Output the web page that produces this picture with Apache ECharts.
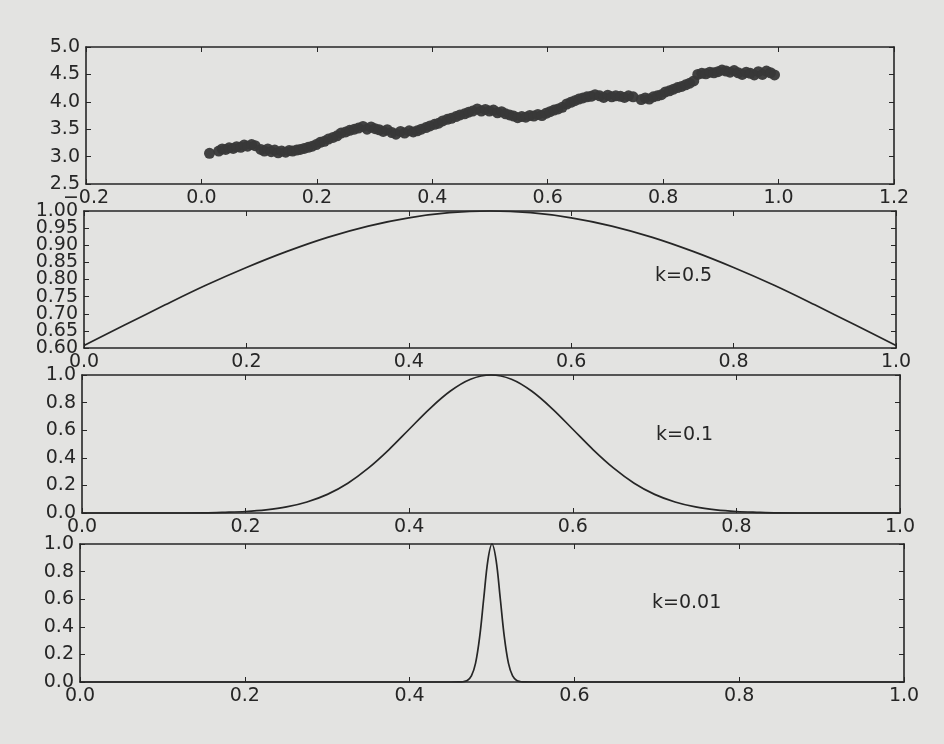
<!DOCTYPE html>
<html>
<head>
<meta charset="utf-8">
<title>LWLR kernel weights</title>
<script src="https://cdn.jsdelivr.net/npm/echarts@6/dist/echarts.min.js"></script>
<style>
  html, body { margin: 0; padding: 0; background: #e3e3e1; }
  #main { width: 944px; height: 744px; }
</style>
</head>
<body>
<div id="main"></div>
<script>
// scatter data (top panel)
var scatterX = [
  0.014, 0.030, 0.036, 0.042, 0.048, 0.055, 0.061, 0.068, 0.074, 0.080, 0.087, 0.093,
  0.103, 0.109, 0.115, 0.121, 0.127, 0.133, 0.139, 0.146, 0.152, 0.158, 0.165, 0.171, 0.178, 0.185, 0.192, 0.199,
  0.206, 0.213, 0.220, 0.228, 0.235, 0.242, 0.250, 0.257, 0.265, 0.272, 0.280, 0.287, 0.294, 0.301,
  0.308, 0.315, 0.322, 0.330, 0.337, 0.345, 0.352, 0.360, 0.367,
  0.374, 0.381, 0.389, 0.396, 0.404, 0.411, 0.418, 0.426, 0.433, 0.441, 0.448, 0.456, 0.463, 0.470, 0.478, 0.485,
  0.492, 0.499, 0.506, 0.513, 0.520, 0.527, 0.534, 0.541, 0.548, 0.555, 0.562, 0.569, 0.576, 0.583, 0.590, 0.597,
  0.604, 0.611, 0.618, 0.625, 0.633, 0.640, 0.647, 0.654, 0.661, 0.668, 0.675, 0.682,
  0.690, 0.697, 0.704, 0.711, 0.718, 0.726, 0.733, 0.740, 0.748,
  0.762, 0.769, 0.776, 0.783, 0.790, 0.797, 0.804, 0.811, 0.818, 0.825, 0.832, 0.839, 0.846, 0.853,
  0.860, 0.867, 0.874, 0.881, 0.888, 0.895, 0.902, 0.909, 0.916, 0.923, 0.930, 0.937, 0.944, 0.951, 0.958, 0.965, 0.972, 0.979, 0.986, 0.993
];
var scatterY = [
  3.06, 3.10, 3.14, 3.13, 3.16, 3.15, 3.18, 3.17, 3.21, 3.19, 3.22, 3.20,
  3.13, 3.10, 3.14, 3.09, 3.12, 3.07, 3.10, 3.08, 3.11, 3.10, 3.12, 3.13, 3.15, 3.17, 3.19, 3.22,
  3.26, 3.28, 3.32, 3.35, 3.38, 3.43, 3.45, 3.48, 3.50, 3.52, 3.55, 3.50, 3.54, 3.51,
  3.49, 3.46, 3.49, 3.44, 3.41, 3.46, 3.43, 3.47, 3.45,
  3.47, 3.50, 3.53, 3.56, 3.59, 3.61, 3.65, 3.68, 3.70, 3.73, 3.76, 3.78, 3.81, 3.83, 3.87, 3.83,
  3.86, 3.83, 3.85, 3.80, 3.82, 3.78, 3.76, 3.74, 3.71, 3.73, 3.72, 3.75, 3.74, 3.77, 3.75, 3.79,
  3.82, 3.85, 3.87, 3.90, 3.96, 3.99, 4.02, 4.05, 4.07, 4.09, 4.10, 4.13,
  4.11, 4.08, 4.12, 4.09, 4.11, 4.10, 4.08, 4.11, 4.09,
  4.04, 4.07, 4.05, 4.09, 4.11, 4.13, 4.18, 4.20, 4.23, 4.26, 4.28, 4.31, 4.34, 4.38,
  4.50, 4.52, 4.51, 4.54, 4.53, 4.55, 4.58, 4.56, 4.54, 4.57, 4.53, 4.50, 4.54, 4.52, 4.49, 4.55, 4.50, 4.56, 4.53, 4.49
];

// kernel weight curves
var k05X = [0, 0.05, 0.1, 0.15, 0.2, 0.25, 0.3, 0.35, 0.4, 0.45, 0.5, 0.55, 0.6, 0.65, 0.7, 0.75, 0.8, 0.85, 0.9, 0.95, 1.0];
var k05Y = [0.607, 0.667, 0.726, 0.783, 0.835, 0.882, 0.923, 0.956, 0.980, 0.995, 1.0, 0.995, 0.980, 0.956, 0.923, 0.882, 0.835, 0.783, 0.726, 0.667, 0.607];

var k01X = [0, 0.1, 0.15, 0.175, 0.2, 0.225, 0.25, 0.275, 0.3, 0.325, 0.35, 0.375, 0.4, 0.425, 0.45, 0.475, 0.5,
            0.525, 0.55, 0.575, 0.6, 0.625, 0.65, 0.675, 0.7, 0.725, 0.75, 0.775, 0.8, 0.825, 0.85, 0.9, 1.0];
var k01Y = [0, 0, 0.001, 0.005, 0.011, 0.023, 0.044, 0.080, 0.135, 0.216, 0.325, 0.458, 0.607, 0.755, 0.882, 0.969, 1.0,
            0.969, 0.882, 0.755, 0.607, 0.458, 0.325, 0.216, 0.135, 0.080, 0.044, 0.023, 0.011, 0.005, 0.001, 0, 0];

var k001X = [0, 0.45, 0.46, 0.465, 0.47, 0.475, 0.48, 0.485, 0.49, 0.495, 0.5, 0.505, 0.51, 0.515, 0.52, 0.525, 0.53, 0.535, 0.54, 0.55, 1.0];
var k001Y = [0, 0, 0.0003, 0.002, 0.011, 0.044, 0.135, 0.325, 0.607, 0.882, 1.0, 0.882, 0.607, 0.325, 0.135, 0.044, 0.011, 0.002, 0.0003, 0, 0];

var curveLabels = ['k=0.5', 'k=0.1', 'k=0.01'];

var chartDom = document.getElementById('main');
var myChart = echarts.init(chartDom);

var ink = '#262626';
var font = 'DejaVu Sans';
var fontSize = 19;

function zip(xs, ys) {
  return xs.map(function (x, i) { return [x, ys[i]]; });
}

function fmt(digits) {
  return function (v) {
    var s = Math.abs(v).toFixed(digits);
    return (v < -1e-9 ? '\u2212' : '') + s;
  };
}

// grid boxes (pixels)
var grids = [
  { left: 86, top: 47,  width: 808, height: 137 },
  { left: 84, top: 211, width: 812, height: 137 },
  { left: 82, top: 375, width: 818, height: 138 },
  { left: 80, top: 544, width: 824, height: 138 }
];

// axis ranges per panel
var xRanges = [[-0.2, 1.2, 0.2], [0, 1, 0.2], [0, 1, 0.2], [0, 1, 0.2]];
var yRanges = [[2.5, 5.0, 0.5, 1], [0.6, 1.0, 0.05, 2], [0, 1, 0.2, 1], [0, 1, 0.2, 1]];

var labelStyle = { color: ink, fontFamily: font, fontSize: fontSize };

var xAxis = [], yAxis = [];
grids.forEach(function (g, i) {
  var xr = xRanges[i], yr = yRanges[i];
  ['bottom', 'top'].forEach(function (pos) {
    xAxis.push({
      type: 'value', gridIndex: i, position: pos,
      min: xr[0], max: xr[1], interval: xr[2],
      axisLine: { show: true, onZero: false, lineStyle: { color: ink, width: 1.6 } },
      axisTick: { show: true, inside: true, length: 5, lineStyle: { color: ink } },
      axisLabel: Object.assign({
        show: pos === 'bottom', margin: 5, formatter: fmt(1),
        showMinLabel: true, showMaxLabel: true
      }, labelStyle),
      splitLine: { show: false }
    });
  });
  ['left', 'right'].forEach(function (pos) {
    var f = fmt(yr[3]);
    // the crowded 0.05-step axis: every other label here, the rest on an overlay axis
    if (i === 1) {
      f = function (v) { return Math.round(v / 0.05) % 2 === 0 ? v.toFixed(2) : ''; };
    }
    yAxis.push({
      type: 'value', gridIndex: i, position: pos,
      min: yr[0], max: yr[1], interval: yr[2],
      axisLine: { show: true, onZero: false, lineStyle: { color: ink, width: 1.6 } },
      axisTick: { show: true, inside: true, length: 5, lineStyle: { color: ink } },
      axisLabel: Object.assign({
        show: pos === 'left', margin: 6, formatter: f,
        showMinLabel: true, showMaxLabel: true
      }, labelStyle),
      splitLine: { show: false }
    });
  });
});

// overlay grid on panel 2 carrying the 0.65 / 0.75 / 0.85 / 0.95 labels
grids.push(Object.assign({}, grids[1]));
xAxis.push({ type: 'value', gridIndex: 4, min: 0, max: 1, show: false });
yAxis.push({
  type: 'value', gridIndex: 4, position: 'left',
  min: yRanges[1][0], max: yRanges[1][1], interval: yRanges[1][2],
  axisLine: { show: false }, axisTick: { show: false }, splitLine: { show: false },
  axisLabel: Object.assign({
    margin: 6,
    formatter: function (v) { return Math.round(v / 0.05) % 2 === 1 ? v.toFixed(2) : ''; }
  }, labelStyle)
});

function curve(idx, xs, ys) {
  return {
    type: 'line', xAxisIndex: idx * 2, yAxisIndex: idx * 2,
    data: zip(xs, ys), showSymbol: false, symbol: 'none',
    smooth: 0.35,
    lineStyle: { color: ink, width: 1.7 }, clip: false
  };
}

var option = {
  backgroundColor: '#e3e3e1',
  animation: false,
  grid: grids,
  xAxis: xAxis,
  yAxis: yAxis,
  title: [
    { text: curveLabels[0], left: 655, top: 267 },
    { text: curveLabels[1], left: 656, top: 426 },
    { text: curveLabels[2], left: 652, top: 594 }
  ].map(function (t) {
    t.textStyle = { color: ink, fontFamily: font, fontSize: fontSize, fontWeight: 'normal' };
    t.padding = 0;
    return t;
  }),
  series: [
    {
      type: 'scatter', xAxisIndex: 0, yAxisIndex: 0,
      data: zip(scatterX, scatterY),
      symbolSize: 11,
      itemStyle: { color: '#383838', opacity: 0.95 }
    },
    curve(1, k05X, k05Y),
    curve(2, k01X, k01Y),
    curve(3, k001X, k001Y)
  ]
};

myChart.setOption(option);

window.onresize = () => {
  myChart.resize();
}
</script>
</body>
</html>
